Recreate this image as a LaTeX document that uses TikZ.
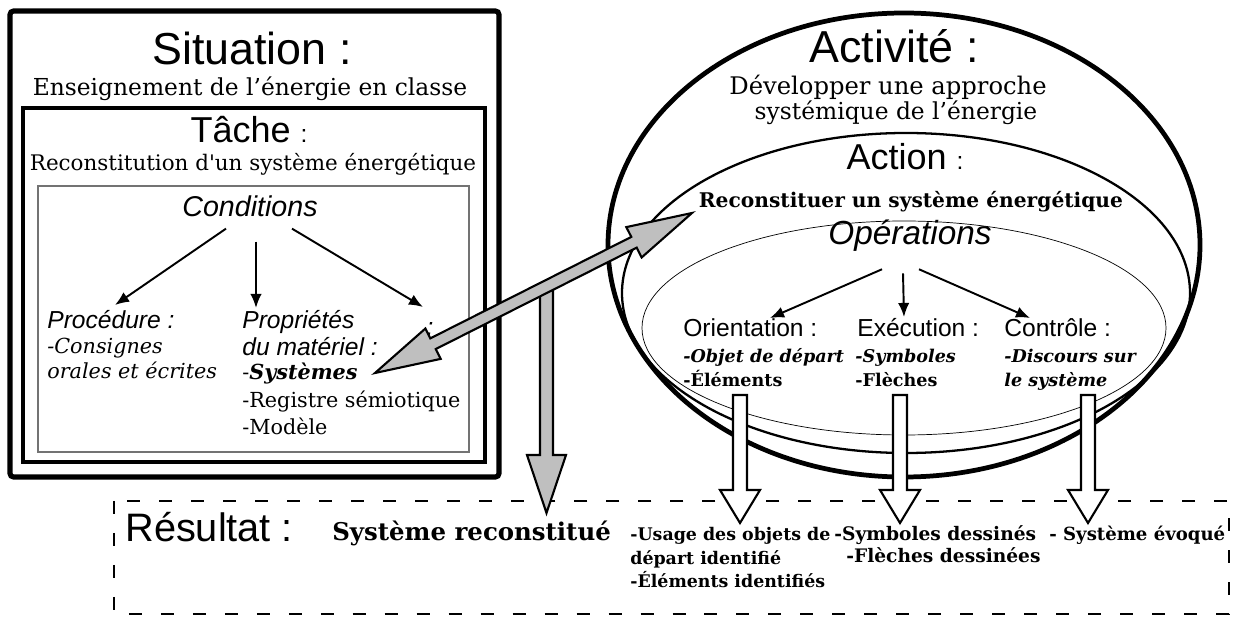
\documentclass[tikz,border=0pt]{standalone}
\usepackage{fontspec}
\setmainfont{DejaVu Serif}
\setsansfont{Liberation Sans}
\usetikzlibrary{arrows.meta,calc}

\begin{document}
\begin{tikzpicture}[x=0.02cm,y=-0.02cm,
	bigtitle/.style={font=\sffamily\fontsize{25.5}{30}\selectfont,inner sep=0,anchor=base},
	midtitle/.style={font=\sffamily\fontsize{20.5}{24}\selectfont,inner sep=0,anchor=base},
	subtitle/.style={font=\sffamily\itshape\fontsize{14}{17}\selectfont,inner sep=0,anchor=base west},
	optitle/.style={font=\sffamily\fontsize{14}{17}\selectfont,inner sep=0,anchor=base west},
	slab/.style={font=\fontsize{13.3}{16}\selectfont,inner sep=0,anchor=base},
	slabl/.style={font=\fontsize{11.8}{14}\selectfont,inner sep=0,anchor=base west},
	opitem/.style={font=\bfseries\fontsize{10}{12}\selectfont,inner sep=0,anchor=base west},
	resitem/.style={font=\bfseries\fontsize{9.9}{12}\selectfont,inner sep=0,anchor=base west},
	arr/.style={-{Latex[length=8pt,width=6.5pt]},line width=1.1pt},
	grayarrow/.style={draw=black,line width=1.2pt,fill=black!25,line join=miter},
	whitearrow/.style={draw=black,line width=1.2pt,fill=white,line join=miter}]
	\useasboundingbox (0,0) rectangle (1237,617);

	% situation / tache / conditions
	\draw[line width=2.9pt,rounded corners=2] (10,11) rectangle (499,477);
	\draw[line width=1.9pt] (23,108) rectangle (485,462);
	\draw[black!55,line width=0.6pt] (38,186) rectangle (469,452);

	\node[bigtitle] (situation) at (252,65) {Situation :};
	\node[slab] (sitdesc) at (250,96) {Enseignement de l’énergie en classe};
	\node[midtitle] (tache) at (249,143) {Tâche {\fontsize{14}{16}\selectfont :}};
	\node[slab,font=\fontsize{12.2}{15}\selectfont] (tachedesc) at (253,171) {Reconstitution d\textquotesingle un système énergétique};
	\node[font=\sffamily\itshape\fontsize{16.3}{20}\selectfont,inner sep=0,anchor=base] (cond) at (250,217) {Conditions};

	\node[subtitle] (proc) at (47,329) {Procédure :};
	\node[slabl] (consignes) at (47,354) {\itshape -Consignes};
	\node[slabl] (orales) at (47,379) {\itshape orales et écrites};
	\node[subtitle] (prop) at (242,329) {Propriétés};
	\node[subtitle] (mat) at (242,356) {du matériel :};
	\node[slabl] (systemes) at (242,380) {-{\bfseries\itshape Systèmes}};
	\node[slabl] (registre) at (242,408) {-Registre sémiotique};
	\node[slabl] (modele) at (242,435) {-Modèle};
	\node[subtitle,anchor=base] (autre) at (430,336) {:};

	\coordinate (c1) at (115,305);
	\coordinate (c2) at (256,308);
	\coordinate (c3) at (423,307);
	\draw[arr] ($(cond.south)+(-24,11)$) -- (c1);
	\draw[arr] ($(cond.south)+(6,24)$) -- (c2);
	\draw[arr] ($(cond.south)+(42,11)$) -- (c3);

	% activite / action / operations
	\draw[line width=2.7pt] (904,245) ellipse [x radius=296,y radius=232];
	\draw[line width=1.3pt] (906,293) ellipse [x radius=284,y radius=160];
	\draw[line width=0.4pt] (904,328) ellipse [x radius=262,y radius=107];

	\node[bigtitle] (activite) at (894,63) {Activité :};
	\node[slab,font=\fontsize{13.8}{16}\selectfont] (actdesc1) at (888,95) {Développer une approche};
	\node[slab] (actdesc2) at (896,120) {systémique de l’énergie};
	\node[midtitle] (action) at (905,170) {Action {\fontsize{14}{16}\selectfont :}};
	\node[slab,font=\bfseries\fontsize{11.5}{13}\selectfont] (reconst) at (911,208) {Reconstituer un système énergétique};
	\node[font=\sffamily\itshape\fontsize{19}{23}\selectfont,inner sep=0,anchor=base] (ops) at (910,245) {Opérations};

	\node[optitle] (orient) at (683,337) {Orientation :};
	\node[opitem] (objet) at (683,363) {\itshape -Objet de départ};
	\node[opitem] (elem) at (683,387) {-Éléments};
	\node[optitle] (exec) at (857,337) {Exécution :};
	\node[opitem] (symb) at (855,363) {\itshape -Symboles};
	\node[opitem] (fleches) at (855,387) {-Flèches};
	\node[optitle] (ctrl) at (1004,337) {Contrôle :};
	\node[opitem] (disc) at (1004,363) {\itshape -Discours sur};
	\node[opitem] (lesys) at (1004,387) {\itshape le système};

	\coordinate (o1) at (770,318);
	\coordinate (o2) at (904,317);
	\coordinate (o3) at (1030,318);
	\draw[arr] ($(ops.south)+(-28,17)$) -- (o1);
	\draw[arr] ($(ops.south)+(-7,21)$) -- (o2);
	\draw[arr] ($(ops.south)+(9,17)$) -- (o3);

	% resultat
	\draw[line width=1.1pt,dash pattern=on 7.4pt off 10.8pt] (114,501) rectangle (1229,614);
	\node[bigtitle,font=\sffamily\fontsize{22.6}{27}\selectfont,anchor=base west] (resultat) at (125,542) {Résultat :};
	\node[resitem,font=\bfseries\fontsize{13.9}{16}\selectfont] (sysrec) at (332,541) {Système reconstitué};
	\node[resitem] (usage) at (630,541) {-Usage des objets de};
	\node[resitem] (depart) at (630,565) {départ identifié};
	\node[resitem] (elemid) at (630,588) {-Éléments identifiés};
	\node[resitem,font=\bfseries\fontsize{10.6}{12}\selectfont] (symbd) at (834,541) {-Symboles dessinés};
	\node[resitem,font=\bfseries\fontsize{10.6}{12}\selectfont] (flechd) at (846,563) {-Flèches dessinées};
	\node[resitem,font=\bfseries\fontsize{10.3}{12}\selectfont] (evoque) at (1049,541) {- Système évoqué};

	% block arrows
	\foreach \x in {740,900,1088}
		\draw[whitearrow] (\x-7,395) -- (\x-7,490) -- (\x-20,490) -- (\x,523) -- (\x+20,490) -- (\x+7,490) -- (\x+7,395) -- cycle;

	\draw[grayarrow] (540,290) -- (540,455) -- (527,455) -- (546.5,513) -- (566,455) -- (553,455) -- (553,290) -- cycle;

	\coordinate (systip) at (375,373);
	\coordinate (rectip) at (692,213);
	\coordinate (h1) at ($(systip)!1.3cm!(rectip)$);
	\coordinate (h2) at ($(rectip)!1.3cm!(systip)$);
	\draw[grayarrow] (systip) -- ($(h1)!0.34cm!90:(rectip)$) -- ($(h1)!0.12cm!90:(rectip)$)
		-- ($(h2)!0.12cm!-90:(systip)$) -- ($(h2)!0.34cm!-90:(systip)$) -- (rectip)
		-- ($(h2)!0.34cm!90:(systip)$) -- ($(h2)!0.12cm!90:(systip)$)
		-- ($(h1)!0.12cm!-90:(rectip)$) -- ($(h1)!0.34cm!-90:(rectip)$) -- cycle;
\end{tikzpicture}
\end{document}
